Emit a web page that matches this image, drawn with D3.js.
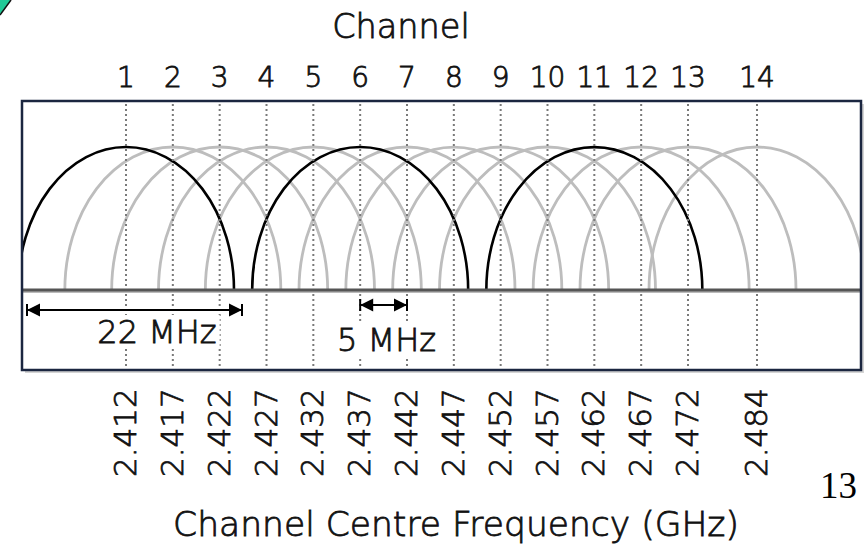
<!DOCTYPE html>
<html>
<head>
<meta charset="utf-8">
<script src="https://cdn.jsdelivr.net/npm/d3@7/dist/d3.min.js"></script>
<style>
  html, body { margin: 0; padding: 0; background: #fff; }
  svg { display: block; }
  text { font-family: "DejaVu Sans", Verdana, sans-serif; font-weight: 300; fill: #111; stroke: #111; stroke-width: 0.8; }
</style>
</head>
<body>
<svg id="chart" width="866" height="544"></svg>
<script>
// ---- data ----
const channels = [1, 2, 3, 4, 5, 6, 7, 8, 9, 10, 11, 12, 13, 14];
const centreFreqMHz = [2412, 2417, 2422, 2427, 2432, 2437, 2442, 2447, 2452, 2457, 2462, 2467, 2472, 2484];
const freqLabels = ["2.412", "2.417", "2.422", "2.427", "2.432", "2.437", "2.442", "2.447", "2.452", "2.457", "2.462", "2.467", "2.472", "2.484"];
const nonOverlapping = [1, 6, 11];
const bandwidthMHz = 22;
const spacingMHz = 5;
const topTitle = "Channel";
const bottomTitle = "Channel Centre Frequency (GHz)";
const pageNumber = "13";

// ---- layout ----
const svg = d3.select("#chart");
const frame = { left: 22, top: 101, right: 861, bottom: 370 };
const baseY = 290, peakY = 147;

const x = d3.scaleLinear().domain([2412, 2472, 2484]).range([126, 688, 757]);
const halfW = d3.scaleLinear().domain([0, bandwidthMHz / 2]).range([0, 108]);
const y = d3.scaleLinear().domain([0, 1]).range([baseY, peakY]);

const data = channels.map((c, i) => ({ ch: c, f: centreFreqMHz[i], label: freqLabels[i], hi: nonOverlapping.includes(c) }));

// green corner
svg.append("path").attr("d", "M0,0 L11,0 L0,15 Z").attr("fill", "#22c997");
svg.append("path").attr("d", "M11,0 L0,15").attr("stroke", "#111").attr("stroke-width", 1.5);

// frame shadow + background
svg.append("rect").attr("x", frame.left + 3).attr("y", frame.top + 3)
  .attr("width", frame.right - frame.left).attr("height", frame.bottom - frame.top)
  .attr("fill", "#d4d4d4");
svg.append("rect").attr("x", frame.left).attr("y", frame.top)
  .attr("width", frame.right - frame.left).attr("height", frame.bottom - frame.top)
  .attr("fill", "#fff");

svg.append("clipPath").attr("id", "clip").append("rect")
  .attr("x", frame.left).attr("y", frame.top)
  .attr("width", frame.right - frame.left).attr("height", frame.bottom - frame.top);

const archPath = d => {
  const cx = x(d.f), r = halfW(bandwidthMHz / 2), h = y(0) - y(1);
  return `M${cx - r},${y(0)} A${r},${h} 0 0 1 ${cx + r},${y(0)}`;
};

const g = svg.append("g").attr("clip-path", "url(#clip)");
g.selectAll("path.grey").data(data.filter(d => !d.hi)).join("path")
  .attr("class", "grey").attr("d", archPath)
  .attr("fill", "none").attr("stroke", "#bdbdbd").attr("stroke-width", 2.8);
g.selectAll("path.black").data(data.filter(d => d.hi)).join("path")
  .attr("class", "black").attr("d", archPath)
  .attr("fill", "none").attr("stroke", "#000").attr("stroke-width", 2.6);

// dotted channel lines
svg.selectAll("line.dot").data(data).join("line")
  .attr("class", "dot")
  .attr("x1", d => x(d.f)).attr("x2", d => x(d.f))
  .attr("y1", frame.top + 3).attr("y2", frame.bottom - 2)
  .attr("stroke", "#7a7a7a").attr("stroke-width", 2).attr("stroke-dasharray", "2,3");

// baseline
svg.append("line").attr("x1", frame.left).attr("x2", frame.right)
  .attr("y1", baseY + 2).attr("y2", baseY + 2).attr("stroke", "#bbb").attr("stroke-width", 2);
svg.append("line").attr("x1", frame.left).attr("x2", frame.right)
  .attr("y1", baseY).attr("y2", baseY).attr("stroke", "#555").attr("stroke-width", 3);

// frame border
svg.append("rect").attr("x", frame.left).attr("y", frame.top)
  .attr("width", frame.right - frame.left).attr("height", frame.bottom - frame.top)
  .attr("fill", "none").attr("stroke", "#1b2640").attr("stroke-width", 2.5);

// text boxes + arrows
function label(txt, xPos, yPos, anchor) {
  const t = svg.append("text").attr("x", xPos).attr("y", yPos)
    .attr("text-anchor", anchor).attr("font-size", 32).text(txt);
  const b = t.node().getBBox();
  svg.insert("rect", () => t.node())
    .attr("x", b.x - 3).attr("y", b.y + 2).attr("width", b.width + 6).attr("height", b.height - 4)
    .attr("fill", "#fff").style("stroke", "none");
  return t;
}
function arrow(x1, x2, yy) {
  const a = svg.append("g");
  a.append("line").attr("x1", x1).attr("x2", x2).attr("y1", yy).attr("y2", yy)
    .attr("stroke", "#000").attr("stroke-width", 2);
  [[x1, 1], [x2, -1]].forEach(([px, dir]) => {
    a.append("line").attr("x1", px).attr("x2", px).attr("y1", yy - 6).attr("y2", yy + 6)
      .attr("stroke", "#000").attr("stroke-width", 2);
    a.append("path").attr("d", `M${px},${yy} L${px + dir * 13},${yy - 6.5} L${px + dir * 13},${yy + 6.5} Z`)
      .attr("fill", "#000");
  });
}
const c1 = data[0];
const bwLeft = Math.max(x(c1.f) - halfW(bandwidthMHz / 2), frame.left + 5);
const bwRight = x(c1.f) + halfW(bandwidthMHz / 2) + 8;
label(`${bandwidthMHz} MHz`, x(centreFreqMHz[2]) - 3, 343, "end");
arrow(bwLeft, bwRight, 310);

label(`${spacingMHz} MHz`, (x(centreFreqMHz[5]) + x(centreFreqMHz[6])) / 2 + 3, 351, "middle");
arrow(x(centreFreqMHz[5]), x(centreFreqMHz[6]), 305);

// channel numbers
svg.selectAll("text.ch").data(data).join("text")
  .attr("class", "ch").attr("x", d => x(d.f)).attr("y", 87)
  .attr("text-anchor", "middle").attr("font-size", 28).text(d => d.ch);

// titles
svg.append("text").attr("x", 401).attr("y", 38).attr("text-anchor", "middle")
  .attr("font-size", 33.5).text(topTitle);
svg.append("text").attr("x", 456).attr("y", 536).attr("text-anchor", "middle")
  .attr("font-size", 34.5).text(bottomTitle);

// frequency labels
svg.selectAll("text.fl").data(data).join("text")
  .attr("class", "fl")
  .attr("transform", d => `translate(${x(d.f) + 10},477) rotate(-90)`)
  .attr("text-anchor", "start").attr("font-size", 31).text(d => d.label);

// page number
svg.append("text").attr("x", 820).attr("y", 498)
  .style("font-family", "'Liberation Serif', 'Times New Roman', serif")
  .style("font-weight", 400).style("stroke", "none")
  .attr("font-size", 37).style("fill", "#000").text(pageNumber);
</script>
</body>
</html>
